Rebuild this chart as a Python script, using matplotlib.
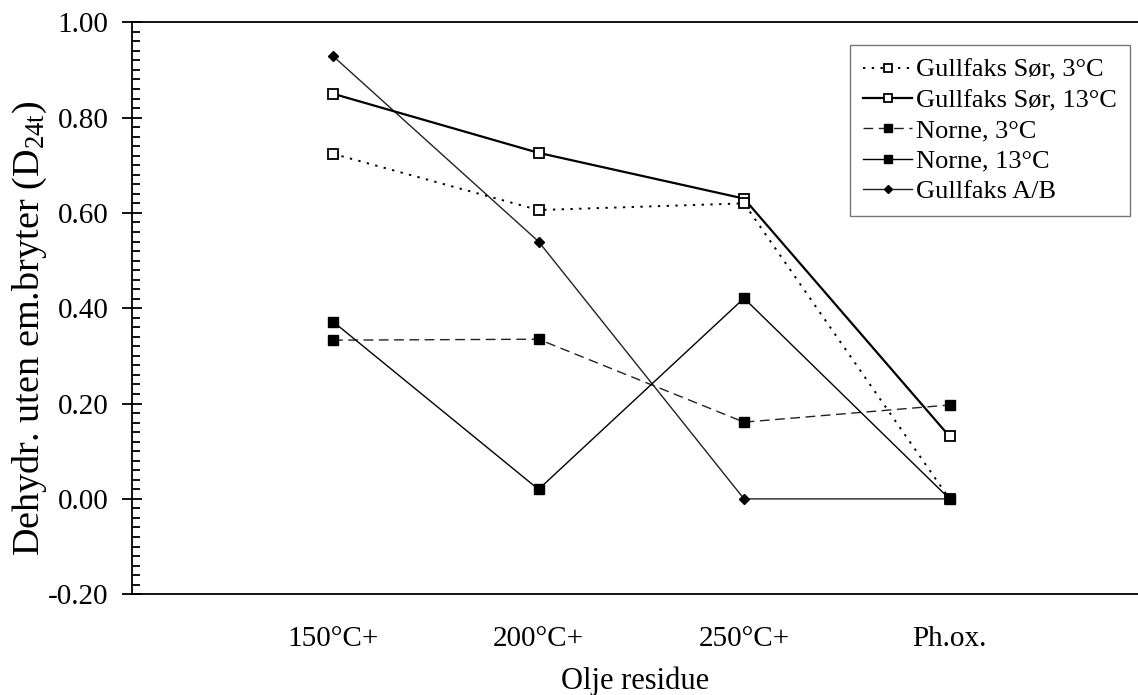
import numpy as np
import matplotlib
matplotlib.use("Agg")
import matplotlib.pyplot as plt
from matplotlib.ticker import MultipleLocator, FormatStrFormatter

plt.rcParams['font.family'] = ['Liberation Serif', 'DejaVu Serif']
plt.rcParams['mathtext.fontset'] = 'custom'
plt.rcParams['mathtext.rm'] = 'Liberation Serif'
plt.rcParams['mathtext.it'] = 'Liberation Serif'

# data
categories = ['150°C+', '200°C+', '250°C+', 'Ph.ox.']
gs_3 = [0.724, 0.606, 0.620, 0.000]
gs_13 = [0.850, 0.726, 0.630, 0.131]
norne_3 = [0.333, 0.335, 0.161, 0.197]
norne_13 = [0.372, 0.020, 0.421, 0.000]
gf_ab = [0.929, 0.540, 0.000, 0.000]

x = np.arange(len(categories))

fig = plt.figure(figsize=(11.38, 6.95), dpi=100)
ax = fig.add_axes([0.116, 0.145, 0.884, 0.823])

ax.plot(x, gf_ab, color='#222222', lw=1.0, marker='D', ms=5.5,
        mfc='black', mec='black', label='Gullfaks A/B', zorder=3)
ax.plot(x, gs_13, color='black', lw=1.6, marker='s', ms=6.5,
        mfc='white', mec='black', mew=1.3, label='Gullfaks Sør, 13°C', zorder=4)
ax.plot(x, gs_3, color='black', lw=1.4, ls=(0, (1.2, 3.3)), marker='s', ms=6.5,
        mfc='white', mec='black', mew=1.3, label='Gullfaks Sør, 3°C', zorder=4)
ax.plot(x, norne_3, color='#222222', lw=1.0, ls=(0, (7, 4)), marker='s', ms=6.5,
        mfc='black', mec='black', label='Norne, 3°C', zorder=5)
ax.plot(x, norne_13, color='black', lw=1.0, marker='s', ms=6.5,
        mfc='black', mec='black', label='Norne, 13°C', zorder=5)

ax.set_xlim(-0.978, 3.917)
ax.set_ylim(-0.20, 1.00)
ax.set_xticks(x)
ax.set_xticklabels(categories)
ax.yaxis.set_major_locator(MultipleLocator(0.2))
ax.yaxis.set_minor_locator(MultipleLocator(0.02))
ax.yaxis.set_major_formatter(FormatStrFormatter('%.2f'))

ax.tick_params(axis='x', length=0, pad=23, labelsize=21)
ax.tick_params(axis='y', which='major', direction='inout', length=14, width=1.3, labelsize=21, pad=10)
ax.tick_params(axis='y', which='minor', direction='in', length=6, width=1.3)

ax.spines['right'].set_visible(False)
for s in ['left', 'top', 'bottom']:
    ax.spines[s].set_linewidth(1.3)

ax.set_xlabel('Olje residue', fontsize=22, labelpad=10)
ax.set_ylabel('Dehydr. uten em.bryter (D$_{24\\mathrm{t}}$)', fontsize=27.5)
ax.yaxis.set_label_coords(-0.083, 0.465)

handles, labels = ax.get_legend_handles_labels()
order = [2, 1, 3, 4, 0]
leg = ax.legend([handles[i] for i in order], [labels[i] for i in order],
                loc='upper right', bbox_to_anchor=(0.992, 0.96), fontsize=19,
                frameon=True, fancybox=False, edgecolor='#555555',
                handlelength=1.85, handletextpad=0.15, borderpad=0.5,
                labelspacing=0.26, borderaxespad=0, markerscale=0.8)
leg.get_frame().set_linewidth(1.0)

fig.savefig('out.png', dpi=100)
